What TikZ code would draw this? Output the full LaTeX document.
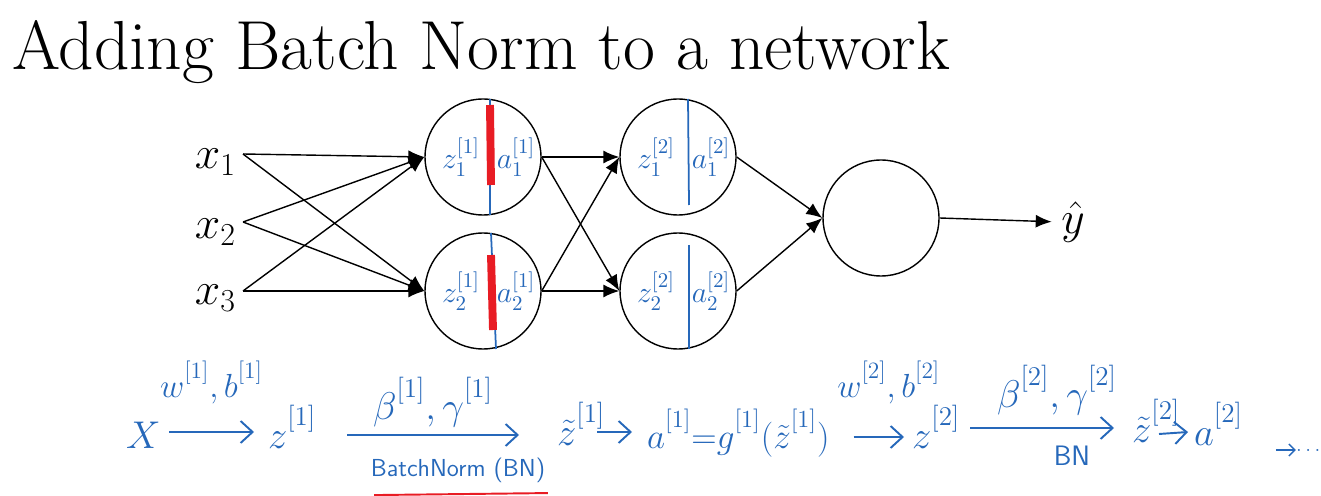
\RequirePackage{fix-cm}
\documentclass[tikz,border=0pt]{standalone}
\usepackage{amsmath,amssymb}
\usepackage{xcolor}
\usetikzlibrary{arrows.meta,positioning}
\definecolor{penblue}{RGB}{38,104,186}
\definecolor{penred}{RGB}{232,28,36}
\newcommand{\hsup}[1]{^{\raisebox{.5ex}{$\scriptstyle[#1]$}}}

\begin{document}
\begin{tikzpicture}[x=0.02cm,y=-0.02cm,
  neuron/.style={draw,circle,minimum size=2.32cm,inner sep=0pt,line width=0.8pt},
  wire/.style={-{Latex[length=3.2mm,width=2.6mm]},line width=0.8pt},
  inlabel/.style={font=\fontsize{26}{28}\selectfont,inner sep=1pt},
  cellnote/.style={text=penblue,inner sep=0pt,font=\fontsize{17}{19}\selectfont},
  hand/.style={text=penblue,inner sep=1pt,font=\fontsize{22}{24}\selectfont},
  handsmall/.style={text=penblue,inner sep=1pt,font=\fontsize{19}{21}\selectfont},
  penarrow/.style={draw=penblue,line width=1.1pt,-{Straight Barb[length=2.4mm,width=4.4mm]}},
  cut/.style={draw=penblue,line width=1pt},
  highlight/.style={draw=penred,line width=4.5pt}]

\useasboundingbox (0,0) rectangle (1321,496);

\node[anchor=base west,inner sep=0pt,font=\fontsize{39.5}{42}\selectfont] (title) at (12,70) {Adding Batch Norm to a network};

% inputs
\node[inlabel,anchor=east] (x1) at (238,162) {$x_1$};
\node[inlabel,anchor=east] (x2) at (238,232) {$x_2$};
\node[inlabel,anchor=east] (x3) at (238,298) {$x_3$};
\coordinate (p1) at (243,154);
\coordinate (p2) at (243,222);
\coordinate (p3) at (243,291);

% neurons
\node[neuron] (h11) at (483,157) {};
\node[neuron] (h12) at (483,291) {};
\node[neuron] (h21) at (678,157) {};
\node[neuron] (h22) at (678,291) {};
\node[neuron] (out) at (881,218) {};
\node[inlabel] (yhat) at (1073,222) {$\hat{y}$};

\foreach \i in {1,2,3}
  \foreach \h in {h11,h12}
    \draw[wire] (p\i) -- (\h.west);
\foreach \a in {h11,h12}
  \foreach \b in {h21,h22}
    \draw[wire] (\a.east) -- (\b.west);
\foreach \a in {h21,h22}
  \draw[wire] (\a.east) -- (out.west);
\draw[wire,shorten >=1.5mm] (out.east) -- (yhat.west);

% z | a split inside each unit
\foreach \h/\l/\u in {h11/1/1,h12/1/2,h21/2/1,h22/2/2}{
  \node[cellnote] (z\l\u) at ([shift={(-22,0)}]\h.center) {$z^{[\l]}_{\u}$};
  \node[cellnote] (a\l\u) at ([shift={(33,0)}]\h.center) {$a^{[\l]}_{\u}$};
}
\draw[cut] ([shift={(7,-58)}]h11.center) -- ([shift={(7,58)}]h11.center);
\draw[cut] ([shift={(8,-58)}]h12.center) -- ([shift={(13,58)}]h12.center);
\draw[cut] ([shift={(10,-58)}]h21.center) -- ([shift={(11,48)}]h21.center);
\draw[cut] ([shift={(11,-46)}]h22.center) -- ([shift={(11,58)}]h22.center);
\draw[highlight] ([shift={(7,-52)}]h11.center) -- ([shift={(8,28)}]h11.center);
\draw[highlight] ([shift={(8,-36)}]h12.center) -- ([shift={(10,39)}]h12.center);

% forward pass with batch norm
\node[hand,anchor=base west] (X) at (124,448) {$X$};
\node[hand,anchor=base west] (zl1) at (266,448) {$z\hsup{1}$};
\node[hand,anchor=base west] (ztl1) at (555,445) {$\tilde{z}\hsup{1}$};
\node[hand,anchor=base west,font=\fontsize{20}{22}\selectfont] (al1) at (645,448) {$a\hsup{1}{=}g\hsup{1}(\tilde{z}\hsup{1})$};
\node[hand,anchor=base west] (zl2) at (910,448) {$z\hsup{2}$};
\node[hand,anchor=base west] (ztl2) at (1130,442) {$\tilde{z}\hsup{2}$};
\node[hand,anchor=base west] (al2) at (1192,445) {$a\hsup{2}$};
\node[text=penblue,inner sep=0pt,font=\fontsize{12}{14}\selectfont] (more) at (1310,450) {$\dots$};

\draw[penarrow] ([shift={(45,-16)}]X.base west) -- ([shift={(-12,-16)}]zl1.base west)
  node[handsmall,midway,above=5mm] (wb1) {$w\hsup{1},b\hsup{1}$};
\draw[penarrow] ([shift={(81,-13)}]zl1.base west) -- ([shift={(-36,-10)}]ztl1.base west)
  node[hand,midway,above=1mm] (bg1) {$\beta\hsup{1},\gamma\hsup{1}$}
  node[midway,below=4mm,xshift=5mm,text=penblue,inner sep=1pt,font=\sffamily\fontsize{14}{16}\selectfont] (bn1) {BatchNorm (BN)};
\draw[draw=penred,line width=1.1pt] ([shift={(6,10)}]bn1.south west) -- ([shift={(0,8)}]bn1.south east);
\draw[penarrow] ([shift={(42,-13)}]ztl1.base west) -- ([shift={(-13,-16)}]al1.base west);
\draw[penarrow] ([shift={(22,-11)}]al1.base east) -- ([shift={(-6,-11)}]zl2.base west)
  node[handsmall,midway,above=6mm,xshift=2mm] (wb2) {$w\hsup{2},b\hsup{2}$};
\draw[penarrow] ([shift={(60,-20)}]zl2.base west) -- ([shift={(-16,-14)}]ztl2.base west)
  node[hand,midway,above=2mm,xshift=3mm] (bg2) {$\beta\hsup{2},\gamma\hsup{2}$}
  node[midway,below=3mm,xshift=6mm,text=penblue,inner sep=1pt,font=\sffamily\fontsize{16}{18}\selectfont] (bn2) {BN};
\draw[penarrow] ([shift={(29,-8)}]ztl2.base west) -- ([shift={(-4,-13)}]al2.base west);
\draw[penarrow,line width=0.8pt,-{Straight Barb[length=1.2mm,width=2.4mm]}] ([shift={(-20,0)}]more.west) -- (more.west);
\end{tikzpicture}
\end{document}
